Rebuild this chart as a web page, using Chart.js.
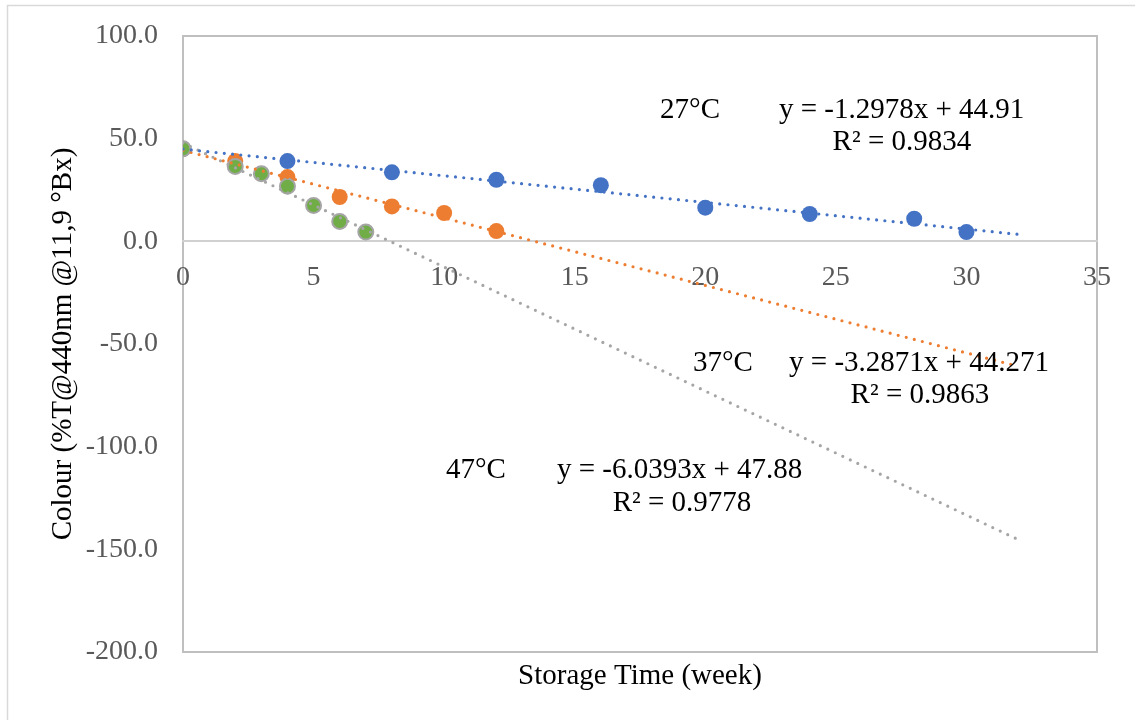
<!DOCTYPE html>
<html>
<head>
<meta charset="utf-8">
<script src="https://cdn.jsdelivr.net/npm/chart.js@4.4.1/dist/chart.umd.min.js"></script>
<style>
  html, body { margin: 0; padding: 0; background: #fff; }
  #wrap { width: 1135px; height: 720px; position: relative; }
</style>
</head>
<body>
<div id="wrap"><canvas id="colourChart"></canvas></div>
<script>
// ---- data ----
var weeks27  = [0, 4, 8, 12, 16, 20, 24, 28, 30];
var colour27 = [45.1, 39.1, 33.6, 30.0, 27.3, 16.4, 13.3, 11.0, 4.5];

var weeks37  = [0, 2, 4, 6, 8, 10, 12];
var colour37 = [45.1, 39.1, 31.3, 21.6, 17.0, 13.8, 5.0];

var weeks47  = [0, 2, 3, 4, 5, 6, 7];
var colour47 = [45.1, 36.5, 32.9, 26.8, 17.5, 9.7, 4.5];

// linear trendlines (as printed on the chart)
var trendSlopes     = [-1.2978, -3.2871, -6.0393];
var trendIntercepts = [44.91, 44.271, 47.88];
var trendEnd        = 32;

var yTicks = [-200, -150, -100, -50, 0, 50, 100];
var xTicks = [0, 5, 10, 15, 20, 25, 30, 35];

// equation labels, anchored in data units
var notes = [
    { text: '27°C',                  x: 18.27, y: 63.7,   align: 'left' },
    { text: 'y = -1.2978x + 44.91',  x: 22.82, y: 63.7,   align: 'left' },
    { text: 'R² = 0.9834',           x: 27.53, y: 48.2,   align: 'center' },
    { text: '37°C',                  x: 19.53, y: -59.4,  align: 'left' },
    { text: 'y = -3.2871x + 44.271', x: 23.21, y: -59.4,  align: 'left' },
    { text: 'R² = 0.9863',           x: 28.22, y: -74.9,  align: 'center' },
    { text: '47°C',                  x: 10.07, y: -111.4, align: 'left' },
    { text: 'y = -6.0393x + 47.88',  x: 14.32, y: -111.4, align: 'left' },
    { text: 'R² = 0.9778',           x: 19.11, y: -127.5, align: 'center' }
];

var BLUE = '#4472C4', ORANGE = '#ED7D31', GREY = '#A5A5A5', GREEN = '#70AD47';
var SERIF = '"Liberation Serif", "Times New Roman", serif';

function pts(xs, ys) {
    return xs.map(function(x, i){ return { x: x, y: ys[i] }; });
}
function trend(i) {
    return [
        { x: 0, y: trendIntercepts[i] },
        { x: trendEnd, y: trendIntercepts[i] + trendSlopes[i] * trendEnd }
    ];
}
function trendSet(i, color) {
    return {
        type: 'line', data: trend(i), order: 0,
        borderColor: color, borderWidth: 3.2, borderDash: [0, 8.3], borderCapStyle: 'round',
        pointRadius: 0, fill: false, showLine: true
    };
}

var frame = {
    id: 'frame',
    beforeDraw: function(chart) {
        var ctx = chart.ctx;
        ctx.save();
        ctx.fillStyle = '#fff';
        ctx.fillRect(0, 0, chart.width, chart.height);
        ctx.strokeStyle = '#D9D9D9';
        ctx.lineWidth = 1.5;
        ctx.strokeRect(7.5, 5.5, chart.width + 10, chart.height + 10);
        var a = chart.chartArea;
        ctx.strokeStyle = '#BFBFBF';
        ctx.lineWidth = 2;
        ctx.strokeRect(a.left, a.top, a.right - a.left, a.bottom - a.top);
        ctx.restore();
    },
    afterDatasetsDraw: function(chart) {
        var ctx = chart.ctx, sx = chart.scales.x, sy = chart.scales.y;
        ctx.save();
        ctx.font = '29px ' + SERIF;
        ctx.fillStyle = '#000';
        ctx.textBaseline = 'middle';
        notes.forEach(function(n){
            ctx.textAlign = n.align;
            ctx.fillText(n.text, sx.getPixelForValue(n.x), sy.getPixelForValue(n.y));
        });
        ctx.restore();
    }
};

new Chart(document.getElementById('colourChart'), {
    type: 'scatter',
    data: {
        datasets: [
            trendSet(0, BLUE),
            trendSet(1, ORANGE),
            trendSet(2, GREY),
            { label: '27°C', data: pts(weeks27, colour27), order: 3,
              backgroundColor: BLUE, borderColor: BLUE, borderWidth: 0, pointRadius: 8, pointHoverRadius: 8 },
            { label: '37°C', data: pts(weeks37, colour37), order: 2,
              backgroundColor: ORANGE, borderColor: ORANGE, borderWidth: 0, pointRadius: 8, pointHoverRadius: 8 },
            { label: '47°C', data: pts(weeks47, colour47), order: 1,
              backgroundColor: GREEN, borderColor: GREY, borderWidth: 2, pointRadius: 7.5, pointHoverRadius: 7.5 }
        ]
    },
    options: {
        responsive: true, maintainAspectRatio: false, animation: false,
        layout: { padding: { top: 36, right: 38, left: 0, bottom: 0 } },
        plugins: { legend: { display: false }, tooltip: { enabled: false } },
        scales: {
            x: {
                type: 'linear', position: 'bottom', min: 0, max: 35,
                grid: { display: false, drawTicks: false }, border: { display: false },
                ticks: { display: false },
                title: { display: true, text: 'Storage Time (week)', color: '#000',
                         font: { family: SERIF, size: 29 }, padding: { top: 0, bottom: 26 } },
                afterFit: function(s){ s.height = 68; }
            },
            xZero: {
                type: 'linear', axis: 'x', position: { y: 0 }, min: 0, max: 35,
                grid: { display: false, drawTicks: false },
                border: { display: true, color: '#D0D0D0', width: 2 },
                afterBuildTicks: function(s){ s.ticks = xTicks.map(function(v){ return { value: v }; }); },
                ticks: { color: '#595959', font: { family: SERIF, size: 28 }, padding: 20, maxRotation: 0 }
            },
            y: {
                type: 'linear', min: -200, max: 100,
                grid: { display: false, drawTicks: false }, border: { display: false },
                afterBuildTicks: function(s){ s.ticks = yTicks.map(function(v){ return { value: v }; }); },
                ticks: { color: '#595959', font: { family: SERIF, size: 28 }, padding: 25,
                         callback: function(v){ return v.toFixed(1); } },
                title: { display: true, text: 'Colour (%T@440nm @11,9 °Bx)', color: '#000',
                         font: { family: SERIF, size: 29 }, padding: { top: 46, bottom: 0 } },
                afterFit: function(s){ s.width = 183; s.paddingTop = 0; s.paddingBottom = 0; }
            }
        }
    },
    plugins: [frame]
});
</script>
</body>
</html>
